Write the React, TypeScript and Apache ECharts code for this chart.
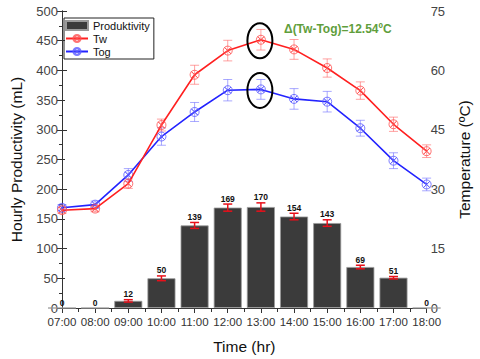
import React, { useEffect, useRef } from "react";
import * as echarts from "echarts";

const categories = ["07:00", "08:00", "09:00", "10:00", "11:00", "12:00", "13:00", "14:00", "15:00", "16:00", "17:00", "18:00"];
const productivity = [0, 0, 12, 50, 139, 169, 170, 154, 143, 69, 51, 0];
const productivityErr = [0, 0, 2, 4, 5, 6, 7, 5.5, 5.5, 3, 2, 0];
const tw = [24.7, 25.1, 31.4, 46.2, 58.9, 65.0, 67.74, 65.3, 60.6, 54.9, 46.4, 39.6];
const twErr = [0.8, 0.8, 1.2, 1.5, 2.4, 2.6, 2.6, 2.5, 2.3, 2.2, 1.8, 1.6];
const tog = [25.3, 26.1, 33.6, 43.3, 49.5, 55.0, 55.2, 52.8, 52.1, 45.4, 37.2, 31.2];
const togErr = [0.8, 0.9, 1.6, 2.2, 2.4, 2.7, 2.5, 2.6, 2.6, 2.0, 2.0, 1.6];
const highlightIndex = 6;
const annotation = "Δ(Tw-Tog)=12.54ºC";

const FONT = "'Liberation Sans', Arial, sans-serif";
const markerPath = "path://M5,0 A5,5 0 1,1 5,10 A5,5 0 1,1 5,0 Z M1.5,1.5 L8.5,8.5 Z M8.5,1.5 L1.5,8.5 Z";

function errRender(color: string, cap: number, lw: number) {
  return (params: any, api: any) => {
    const x = api.value(0);
    const y = api.value(1);
    const e = api.value(2);
    const top = api.coord([x, y + e]);
    const bot = api.coord([x, y - e]);
    return {
      type: "group",
      children: [
        { type: "line", shape: { x1: top[0], y1: top[1], x2: bot[0], y2: bot[1] }, style: { stroke: color, lineWidth: lw } },
        { type: "line", shape: { x1: top[0] - cap / 2, y1: top[1], x2: top[0] + cap / 2, y2: top[1] }, style: { stroke: color, lineWidth: lw } },
        { type: "line", shape: { x1: bot[0] - cap / 2, y1: bot[1], x2: bot[0] + cap / 2, y2: bot[1] }, style: { stroke: color, lineWidth: lw } },
      ],
    };
  };
}

export default function App() {
  const ref = useRef<HTMLDivElement>(null);
  useEffect(() => {
    if (!ref.current) return;
    const chart = echarts.init(ref.current, undefined, { renderer: "svg" });
    const idx = categories.map((_, i) => i);
    const option: any = {
      animation: false,
      backgroundColor: "#ffffff",
      textStyle: { fontFamily: FONT },
      grid: { left: 59, right: 48, top: 11, bottom: 49 },
      legend: {
        data: [{ name: "Produktivity", icon: "rect" }, "Tw", "Tog"],
        orient: "vertical",
        left: 64,
        top: 18,
        padding: [2, 4, 2, 1],
        itemGap: 2,
        itemWidth: 22,
        itemHeight: 9,
        borderColor: "#222",
        borderWidth: 1,
        textStyle: { fontSize: 11, color: "#111", fontFamily: FONT, lineHeight: 11 },
      },
      xAxis: [
        {
          type: "value",
          min: 0,
          max: 11,
          interval: 1,
          position: "bottom",
          name: "Time (hr)",
          nameLocation: "middle",
          nameGap: 30,
          nameTextStyle: { fontSize: 15.5, color: "#111", fontFamily: FONT },
          axisLine: { show: true, lineStyle: { color: "#333", width: 1 } },
          axisTick: { show: true, inside: false, length: 5, lineStyle: { color: "#333" } },
          minorTick: { show: true, splitNumber: 2, length: 3, lineStyle: { color: "#333" } },
          axisLabel: { fontSize: 11.5, color: "#333", margin: 8, formatter: (v: number) => categories[v] ?? "" },
          splitLine: { show: false },
          minorSplitLine: { show: false },
        },
        {
          type: "value",
          min: 0,
          max: 11,
          interval: 1,
          position: "top",
          axisLine: { show: true, lineStyle: { color: "#333", width: 1 } },
          axisTick: { show: true, inside: true, length: 4, lineStyle: { color: "#333" } },
          minorTick: { show: true, splitNumber: 2, length: 4, lineStyle: { color: "#333" } },
          axisLabel: { show: false },
          splitLine: { show: false },
        },
      ],
      yAxis: [
        {
          type: "value",
          min: 0,
          max: 500,
          interval: 50,
          name: "Hourly Productivity (mL)",
          nameLocation: "middle",
          nameGap: 38,
          nameTextStyle: { fontSize: 15.5, color: "#111", fontFamily: FONT },
          axisLine: { show: true, lineStyle: { color: "#333", width: 1 } },
          axisTick: { show: true, inside: false, length: 5, lineStyle: { color: "#333" } },
          minorTick: { show: true, splitNumber: 2, length: 3, lineStyle: { color: "#333" } },
          axisLabel: { fontSize: 13, color: "#444", margin: 4 },
          splitLine: { show: false },
        },
        {
          type: "value",
          min: 0,
          max: 75,
          interval: 15,
          position: "right",
          name: "Temperature (ºC)",
          nameLocation: "middle",
          nameGap: 28,
          nameRotate: 90,
          nameTextStyle: { fontSize: 15.5, color: "#111", fontFamily: FONT },
          axisLine: { show: true, lineStyle: { color: "#333", width: 1 } },
          axisTick: { show: true, inside: false, length: 5, lineStyle: { color: "#333" } },
          minorTick: { show: true, splitNumber: 2, length: 3, lineStyle: { color: "#333" } },
          axisLabel: { fontSize: 13, color: "#444", margin: 4 },
          splitLine: { show: false },
        },
      ],
      series: [
        {
          name: "Produktivity",
          type: "bar",
          xAxisIndex: 0,
          yAxisIndex: 0,
          barWidth: 28,
          data: idx.map((i) => [i, productivity[i]]),
          itemStyle: { color: "#3b3b3b", borderColor: "#9a9a9a", borderWidth: 0.8 },
          z: 2,
        },
        {
          name: "prodErr",
          type: "custom",
          xAxisIndex: 0,
          yAxisIndex: 0,
          data: idx.map((i) => [i, productivity[i], productivityErr[i]]),
          renderItem: (params: any, api: any) => {
            const x = api.value(0);
            const y = api.value(1);
            const e = api.value(2);
            const top = api.coord([x, y + e]);
            const bot = api.coord([x, y - e]);
            const cap = 9;
            const children: any[] = [];
            if (e > 0) {
              children.push(
                { type: "line", shape: { x1: top[0], y1: top[1], x2: bot[0], y2: bot[1] }, style: { stroke: "#e8101a", lineWidth: 1.5 } },
                { type: "line", shape: { x1: top[0] - cap / 2, y1: top[1], x2: top[0] + cap / 2, y2: top[1] }, style: { stroke: "#e8101a", lineWidth: 1.5 } },
                { type: "line", shape: { x1: bot[0] - cap / 2, y1: bot[1], x2: bot[0] + cap / 2, y2: bot[1] }, style: { stroke: "#e8101a", lineWidth: 1.5 } }
              );
            }
            children.push({
              type: "text",
              x: top[0],
              y: top[1] - 1,
              style: {
                text: String(y),
                fill: "#111",
                fontSize: 8.5,
                fontWeight: "bold",
                fontFamily: FONT,
                align: "center",
                verticalAlign: "bottom",
              },
            });
            return { type: "group", children };
          },
          z: 3,
        },
        {
          name: "togErr",
          type: "custom",
          xAxisIndex: 0,
          yAxisIndex: 1,
          data: idx.map((i) => [i, tog[i], togErr[i]]),
          renderItem: errRender("rgba(110,110,255,0.6)", 9, 1),
          z: 4,
        },
        {
          name: "twErr",
          type: "custom",
          xAxisIndex: 0,
          yAxisIndex: 1,
          data: idx.map((i) => [i, tw[i], twErr[i]]),
          renderItem: errRender("rgba(255,100,100,0.6)", 9, 1),
          z: 4,
        },
        {
          name: "Tog",
          type: "line",
          xAxisIndex: 0,
          yAxisIndex: 1,
          data: idx.map((i) => [i, tog[i]]),
          symbol: markerPath,
          symbolSize: 9,
          showSymbol: true,
          lineStyle: { color: "#2323ff", width: 1.6 },
          itemStyle: { color: "rgba(0,0,0,0)", borderColor: "rgba(90,90,255,0.8)", borderWidth: 1 },
          z: 5,
        },
        {
          name: "Tw",
          type: "line",
          xAxisIndex: 0,
          yAxisIndex: 1,
          data: idx.map((i) => [i, tw[i]]),
          symbol: markerPath,
          symbolSize: 9,
          showSymbol: true,
          lineStyle: { color: "#ff2020", width: 1.6 },
          itemStyle: { color: "rgba(0,0,0,0)", borderColor: "rgba(255,80,80,0.8)", borderWidth: 1 },
          z: 6,
        },
        {
          name: "highlight",
          type: "custom",
          xAxisIndex: 0,
          yAxisIndex: 1,
          data: [
            [highlightIndex, tw[highlightIndex]],
            [highlightIndex, tog[highlightIndex]],
          ],
          renderItem: (params: any, api: any) => {
            const p = api.coord([api.value(0), api.value(1)]);
            return {
              type: "ellipse",
              shape: { cx: p[0] - 1, cy: p[1] + 1, rx: 12.5, ry: 17.5 },
              style: { fill: "none", stroke: "#000", lineWidth: 2 },
            };
          },
          z: 7,
        },
      ],
      graphic: [
        {
          type: "text",
          left: 284,
          top: 23,
          style: {
            text: annotation,
            fill: "#5f9e3c",
            fontSize: 12,
            fontWeight: "bold",
            fontFamily: FONT,
          },
        },
      ],
    };
    chart.setOption(option);
    return () => chart.dispose();
  }, []);
  return <div ref={ref} style={{ position: "fixed", left: 0, top: 0, width: 480, height: 359 }} />;
}
